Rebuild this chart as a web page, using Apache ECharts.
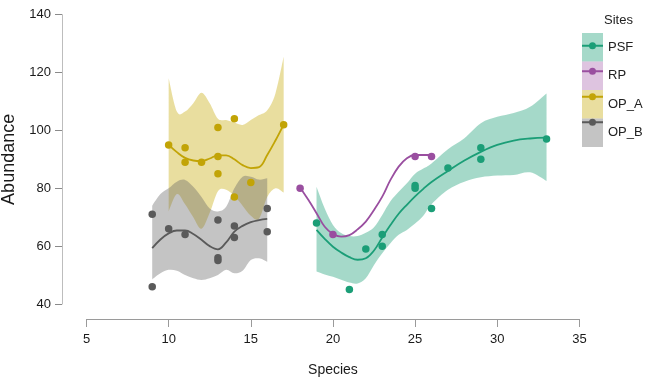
<!DOCTYPE html>
<html>
<head>
<meta charset="utf-8">
<script src="https://cdn.jsdelivr.net/npm/echarts@6/dist/echarts.min.js"></script>
<style>
html,body{margin:0;padding:0;background:#fff;}
#chart{width:645px;height:382px;}
</style>
</head>
<body>
<div id="chart"></div>
<script>
// ---- data ----
const siteNames = ['PSF', 'RP', 'OP_A', 'OP_B'];
const xTicks = [5, 10, 15, 20, 25, 30, 35];
const yTicks = [40, 60, 80, 100, 120, 140];

// observed points
const psfPtsX = [19, 21, 22, 23, 23, 25, 25, 26, 27, 29, 29, 33];
const psfPtsY = [68, 45, 59, 64, 60, 81, 80, 73, 87, 94, 90, 97];
const rpPtsX = [18, 20, 25, 26];
const rpPtsY = [80, 64, 91, 91];
const opaPtsX = [10, 11, 11, 12, 13, 13, 13, 14, 14, 15, 17];
const opaPtsY = [95, 94, 89, 89, 101, 91, 85, 104, 77, 82, 102];
const opbPtsX = [9, 9, 10, 11, 13, 13, 13, 14, 14, 16, 16];
const opbPtsY = [71, 46, 66, 64, 69, 56, 55, 67, 63, 73, 65];

// smoothed fits
const psfFitX = [19, 19.5, 20, 20.5, 21, 21.5, 22, 22.5, 23, 23.5, 24, 24.5, 25, 25.5, 26, 27, 28, 29, 30, 31, 32, 33];
const psfFitY = [65.6, 62.5, 59.8, 57.8, 56.2, 55.3, 55.8, 58.5, 63, 67.3, 71.2, 74.3, 77.2, 79.8, 82.2, 86, 89.6, 92.6, 95, 96.5, 97.2, 97.5];
const rpFitX = [18, 18.5, 19, 19.5, 20, 20.5, 21, 21.5, 22, 22.5, 23, 23.5, 24, 24.5, 25, 26];
const rpFitY = [80.3, 76, 71.4, 66.7, 64.2, 63.3, 63.8, 65.8, 68.5, 72.5, 77.1, 82.9, 87.5, 90.4, 91.5, 91.5];
const opaFitX = [10, 10.5, 11, 11.5, 12, 12.5, 13, 13.5, 14, 14.5, 15, 15.5, 16, 16.5, 17];
const opaFitY = [95, 92.5, 90.5, 89.6, 89.4, 90.3, 91.4, 91.4, 90, 88, 87, 87.3, 91.5, 96.5, 102];
const opbFitX = [9, 9.5, 10, 10.5, 11, 11.5, 12, 12.5, 13, 13.5, 14, 14.5, 15, 15.5, 16];
const opbFitY = [59.3, 62.3, 64.4, 65.4, 65.4, 64.2, 62.2, 60, 58.9, 61.3, 65, 67, 68.3, 69, 69.4];

// confidence bands
const psfBandX = [19, 19.5, 20, 20.5, 21, 21.5, 22, 22.5, 23, 23.5, 24, 24.5, 25, 25.5, 26, 27, 28, 29, 30, 31, 32, 33];
const psfBandLo = [51.2, 50.2, 49.4, 48.4, 47.4, 47.1, 48.9, 53.5, 57.5, 61, 63.9, 65.6, 67.8, 70.5, 74.5, 79.5, 82.3, 83.8, 84.4, 84.6, 85.5, 82.5];
const psfBandHi = [80.5, 73, 67.3, 64.5, 63.5, 63.5, 64.6, 66.5, 70.8, 75.5, 78.8, 81.7, 85, 86.8, 88.6, 93.5, 97.3, 102.5, 104.7, 106, 108.2, 112.8];
const opaBandX = [10, 10.5, 11, 11.5, 12, 12.5, 13, 13.5, 14, 14.5, 15, 15.5, 16, 16.5, 17];
const opaBandLo = [72, 78, 74.5, 70, 66, 71.5, 79, 79.5, 77.3, 74, 70.5, 69.5, 77, 80, 78.5];
const opaBandHi = [118, 106.5, 106.5, 109.4, 113, 109.4, 104, 103.6, 102.7, 101.9, 103.6, 105.3, 107, 112.8, 125.5];
const opbBandX = [9, 9.5, 10, 10.5, 11, 11.5, 12, 12.5, 13, 13.5, 14, 14.5, 15, 15.5, 16];
const opbBandLo = [48.5, 50.6, 51.8, 51.5, 50, 48.9, 48.3, 48.9, 50, 51.8, 50.6, 51.5, 55.2, 55.8, 54.6];
const opbBandHi = [74, 78, 80, 82.3, 82.9, 80.5, 77, 73, 72, 73.6, 80, 84, 84, 83, 83.5];

// ---- styling ----
const dark = {PSF: '#1B9E77', RP: '#9A4FA0', OP_A: '#C2A406', OP_B: '#5A5A5A'};
const light = {PSF: 'rgba(30,160,120,0.4)', RP: 'rgba(160,85,165,0.35)', OP_A: 'rgba(200,172,15,0.4)', OP_B: 'rgba(100,100,100,0.38)'};
const FONT = "'Liberation Sans', Arial, sans-serif";

function zip(xs, ys) { return xs.map((x, i) => [x, ys[i]]); }

// Catmull-Rom -> cubic bezier segments through pixel points
function curveThrough(pts, start) {
  let d = (start ? 'M' : 'L') + pts[0][0] + ',' + pts[0][1];
  for (let i = 0; i < pts.length - 1; i++) {
    const p0 = pts[i - 1] || pts[i], p1 = pts[i], p2 = pts[i + 1], p3 = pts[i + 2] || pts[i + 1];
    const c1x = p1[0] + (p2[0] - p0[0]) / 6, c1y = p1[1] + (p2[1] - p0[1]) / 6;
    const c2x = p2[0] - (p3[0] - p1[0]) / 6, c2y = p2[1] - (p3[1] - p1[1]) / 6;
    d += 'C' + c1x + ',' + c1y + ' ' + c2x + ',' + c2y + ' ' + p2[0] + ',' + p2[1];
  }
  return d;
}

function bandSeries(name, xs, lo, hi) {
  return {
    type: 'custom', name: name, silent: true,
    data: xs.map((x, i) => [x, lo[i], hi[i]]),
    encode: {x: 0, y: [1, 2]},
    renderItem: function (params, api) {
      if (params.dataIndex !== 0) return null;
      const up = xs.map((x, i) => api.coord([x, hi[i]]));
      const dn = xs.map((x, i) => api.coord([x, lo[i]])).reverse();
      const d = curveThrough(up, true) + curveThrough(dn, false) + 'Z';
      return {type: 'path', shape: {pathData: d}, style: {fill: light[name], stroke: null}};
    }
  };
}
function fitSeries(name, xs, ys) {
  return {
    type: 'line', name: name, data: zip(xs, ys), smooth: 0.4, symbol: 'none',
    lineStyle: {color: dark[name], width: 1.8}, silent: true
  };
}
function pointSeries(name, xs, ys) {
  return {
    type: 'scatter', name: name, data: zip(xs, ys), symbol: 'circle', symbolSize: 7.5,
    itemStyle: {color: dark[name], opacity: 1}, silent: true
  };
}

const series = [].concat(
  fitSeries('RP', rpFitX, rpFitY),
  pointSeries('RP', rpPtsX, rpPtsY),
  bandSeries('PSF', psfBandX, psfBandLo, psfBandHi),
  fitSeries('PSF', psfFitX, psfFitY),
  pointSeries('PSF', psfPtsX, psfPtsY),
  bandSeries('OP_A', opaBandX, opaBandLo, opaBandHi),
  fitSeries('OP_A', opaFitX, opaFitY),
  pointSeries('OP_A', opaPtsX, opaPtsY),
  bandSeries('OP_B', opbBandX, opbBandLo, opbBandHi),
  fitSeries('OP_B', opbFitX, opbFitY),
  pointSeries('OP_B', opbPtsX, opbPtsY)
);

const keyIcon = 'path://M0,4.1 H7.1 V5.9 H0 Z M13.9,4.1 H21 V5.9 H13.9 Z M14,5 A3.5,3.5 0 1 1 7,5 A3.5,3.5 0 1 1 14,5 Z';

const chart = echarts.init(document.getElementById('chart'), null, {renderer: 'canvas'});
chart.setOption({
  animation: false,
  backgroundColor: '#ffffff',
  textStyle: {fontFamily: FONT},
  title: {
    text: 'Sites', left: 599, top: 9,
    textStyle: {fontFamily: FONT, fontSize: 13, fontWeight: 'normal', color: '#222'}
  },
  legend: [
    {
      orient: 'vertical', left: 582, top: 33, itemWidth: 21, itemHeight: 28.5, itemGap: 0,
      selectedMode: false, icon: 'rect', padding: 0,
      textStyle: {fontFamily: FONT, fontSize: 13, color: '#222'},
      data: siteNames.map(n => ({name: n, icon: 'rect', itemStyle: {color: light[n], borderWidth: 0}}))
    },
    {
      orient: 'vertical', left: 582, top: 42.25, itemWidth: 21, itemHeight: 10, itemGap: 18.5,
      selectedMode: false, padding: 0, formatter: function () { return ''; },
      textStyle: {fontSize: 6, lineHeight: 6},
      data: siteNames.map(n => ({name: n, icon: keyIcon, itemStyle: {color: dark[n], borderWidth: 0}}))
    }
  ],
  grid: {left: 86.5, right: 65.6, top: 14.7, bottom: 78, containLabel: false, outerBoundsMode: 'none'},
  xAxis: {
    type: 'value', min: xTicks[0], max: xTicks[xTicks.length - 1], interval: 5,
    offset: 15,
    splitLine: {show: false},
    axisLine: {show: true, lineStyle: {color: '#9a9a9a', width: 1}},
    axisTick: {show: true, length: 8, lineStyle: {color: '#9a9a9a'}},
    axisLabel: {margin: 14, fontFamily: FONT, fontSize: 13, color: '#1a1a1a'},
    name: 'Species', nameLocation: 'middle', nameGap: 44,
    nameTextStyle: {fontFamily: FONT, fontSize: 14, color: '#1a1a1a'}
  },
  yAxis: {
    type: 'value', min: yTicks[0], max: yTicks[yTicks.length - 1], interval: 20,
    offset: 24.5,
    splitLine: {show: false},
    axisLine: {show: true, lineStyle: {color: '#bdbdbd', width: 1}},
    axisTick: {show: true, length: 7, lineStyle: {color: '#8a8a8a'}},
    axisLabel: {margin: 11, fontFamily: FONT, fontSize: 13, color: '#1a1a1a'},
    name: 'Abundance', nameLocation: 'middle', nameGap: 37, nameRotate: 90,
    nameTextStyle: {fontFamily: FONT, fontSize: 18, color: '#1a1a1a'}
  },
  series: series
});
</script>
</body>
</html>
